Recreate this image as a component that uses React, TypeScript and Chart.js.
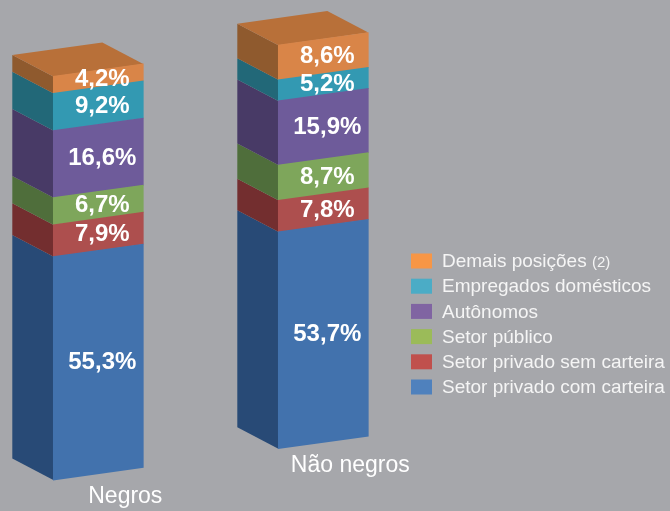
import React, { useEffect, useRef } from "react";
import { Chart, registerables } from "chart.js";

Chart.register(...registerables);

// ---- data ----
const categories = ["Negros", "Não negros"];
const seriesNames = [
  "Setor privado com carteira",
  "Setor privado sem carteira",
  "Setor público",
  "Autônomos",
  "Empregados domésticos",
  "Demais posições",
];
const privadoComCarteira = [55.3, 53.7];
const privadoSemCarteira = [7.9, 7.8];
const setorPublico = [6.7, 8.7];
const autonomos = [16.6, 15.9];
const empregadosDomesticos = [9.2, 5.2];
const demaisPosicoes = [4.2, 8.6];
const seriesValues = [
  privadoComCarteira,
  privadoSemCarteira,
  setorPublico,
  autonomos,
  empregadosDomesticos,
  demaisPosicoes,
];
const legendNotes = ["", "", "", "", "", "(2)"];

// ---- styles ----
const frontColors = ["#4272ad", "#ad4f4e", "#7ea65b", "#6e5b9a", "#3399b2", "#d98548"];
const sideColors = ["#284a76", "#732e2f", "#4f6e3b", "#483a66", "#226878", "#8f5a2e"];
const topColors = ["#4a7cb8", "#b85a58", "#8ab466", "#7a66a8", "#3aa4bd", "#b87039"];
const legendColors = ["#4f81bd", "#c0504d", "#9bbb59", "#8064a2", "#4bacc6", "#f79646"];
const BG = "#a6a7ab";
const FONT = "'Liberation Sans', Arial, sans-serif";

const SLOPE = -0.139;
const DEPTH_X = -41;
const DEPTH_Y = -21.5;
const BAR_W = 90;

function fmt(v: number) {
  return v.toFixed(1).replace(".", ",") + "%";
}

const box3d = {
  id: "box3d",
  beforeDatasetsDraw(chart: any) {
    const ctx: CanvasRenderingContext2D = chart.ctx;
    const x0 = chart.chartArea.left - BAR_W / 2;
    const proj = (x: number, y: number) => [x, y + SLOPE * (x - x0)];
    const last = chart.data.datasets.length - 1;
    const poly = (pts: number[][], color: string) => {
      ctx.beginPath();
      ctx.moveTo(pts[0][0], pts[0][1]);
      for (let k = 1; k < pts.length; k++) ctx.lineTo(pts[k][0], pts[k][1]);
      ctx.closePath();
      ctx.fillStyle = color;
      ctx.fill();
    };
    chart.data.datasets.forEach((_ds: any, di: number) => {
      const meta = chart.getDatasetMeta(di);
      meta.data.forEach((bar: any) => {
        const { x, y, base, width } = bar.getProps(["x", "y", "base", "width"], true);
        const left = x - width / 2;
        const right = x + width / 2;
        const [ax, ay] = proj(left, base);
        const [bx, by] = proj(left, y);
        poly(
          [
            [ax, ay],
            [bx, by],
            [bx + DEPTH_X, by + DEPTH_Y],
            [ax + DEPTH_X, ay + DEPTH_Y],
          ],
          sideColors[di]
        );
        if (di === last) {
          const [cx, cy] = proj(right, y);
          poly(
            [
              [bx, by],
              [cx, cy],
              [cx + DEPTH_X, cy + DEPTH_Y],
              [bx + DEPTH_X, by + DEPTH_Y],
            ],
            topColors[di]
          );
        }
      });
    });
    ctx.save();
    ctx.transform(1, SLOPE, 0, 1, 0, -SLOPE * x0);
  },
  afterDatasetsDraw(chart: any) {
    const ctx: CanvasRenderingContext2D = chart.ctx;
    ctx.restore();
    const x0 = chart.chartArea.left - BAR_W / 2;
    const proj = (x: number, y: number) => [x, y + SLOPE * (x - x0)];

    // value labels
    ctx.save();
    ctx.fillStyle = "#ffffff";
    ctx.textAlign = "center";
    ctx.textBaseline = "middle";
    ctx.font = `bold 24px ${FONT}`;
    chart.data.datasets.forEach((ds: any, di: number) => {
      const meta = chart.getDatasetMeta(di);
      meta.data.forEach((bar: any, i: number) => {
        const { x, y, base } = bar.getProps(["x", "y", "base"], true);
        const [lx, ly] = proj(x + 4, (y + base) / 2);
        ctx.fillText(fmt(ds.data[i]), lx, ly + 1);
      });
    });

    // category labels
    ctx.font = `23px ${FONT}`;
    const meta0 = chart.getDatasetMeta(0);
    meta0.data.forEach((bar: any, i: number) => {
      const { x, base } = bar.getProps(["x", "base"], true);
      const [lx, ly] = proj(x + 27, base);
      ctx.fillText(categories[i], lx, ly + 27);
    });

    // legend (top item = last series)
    const LX = 411;
    const LY = 261;
    const ROW = 25.2;
    ctx.textAlign = "left";
    const n = seriesNames.length;
    for (let k = 0; k < n; k++) {
      const si = n - 1 - k;
      const cy = LY + k * ROW;
      ctx.fillStyle = legendColors[si];
      ctx.fillRect(LX, cy - 7.5, 21, 15);
      ctx.fillStyle = "#f5f5f5";
      ctx.font = `19px ${FONT}`;
      ctx.fillText(seriesNames[si], LX + 31, cy + 1);
      if (legendNotes[si]) {
        const w = ctx.measureText(seriesNames[si] + " ").width;
        ctx.font = `15px ${FONT}`;
        ctx.fillText(legendNotes[si], LX + 31 + w, cy + 2);
      }
    }
    ctx.restore();
  },
};

export default function App() {
  const ref = useRef<HTMLCanvasElement | null>(null);
  useEffect(() => {
    if (!ref.current) return;
    const chart = new Chart(ref.current, {
      type: "bar",
      data: {
        labels: categories,
        datasets: seriesValues.map((vals, di) => ({
          label: seriesNames[di],
          data: vals,
          backgroundColor: frontColors[di],
          borderWidth: 0,
          barThickness: BAR_W,
          clip: false as any,
        })),
      },
      options: {
        animation: false,
        responsive: true,
        maintainAspectRatio: false,
        layout: { padding: { left: 98.3, right: 346.7, top: 76, bottom: 31 } },
        scales: {
          x: { type: "category", display: false, offset: false, stacked: true },
          y: { display: false, min: 0, max: 100, stacked: true },
        },
        plugins: {
          legend: { display: false },
          tooltip: { enabled: false },
          title: { display: false },
        },
      },
      plugins: [box3d],
    });
    return () => chart.destroy();
  }, []);
  return (
    <div
      style={{
        position: "fixed",
        left: 0,
        top: 0,
        width: 670,
        height: 511,
        background: BG,
      }}
    >
      <canvas ref={ref} />
    </div>
  );
}
